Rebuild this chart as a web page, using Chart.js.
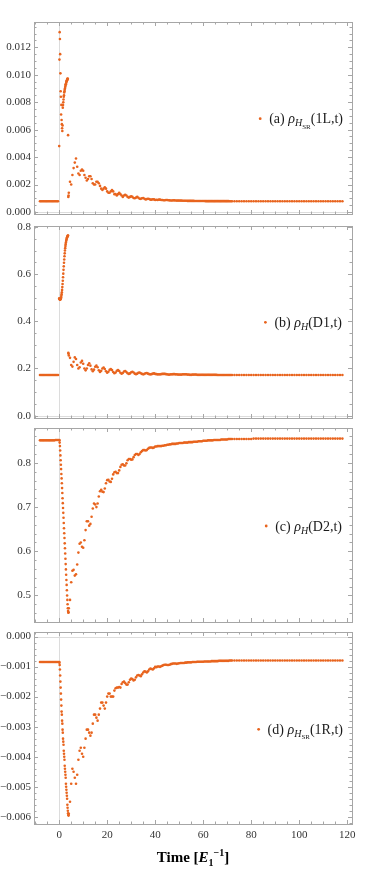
<!DOCTYPE html>
<html>
<head>
<meta charset="utf-8">
<script src="https://cdn.jsdelivr.net/npm/chart.js@4.4.1/dist/chart.umd.min.js"></script>
<style>
  html, body { margin: 0; padding: 0; background: #fff; }
  body { width: 374px; height: 872px; position: relative; overflow: hidden; }
  canvas { position: absolute; left: 0; }
</style>
</head>
<body>
<canvas id="pa" width="374" height="212" style="top:12px"></canvas>
<canvas id="pb" width="374" height="212" style="top:216px"></canvas>
<canvas id="pc" width="374" height="214" style="top:418px"></canvas>
<canvas id="pd" width="374" height="250" style="top:622px"></canvas>
<script>
// sample times (shared by all four panels)
var times = [
  -8, -7.5, -7, -6.5, -6, -5.5, -5, -4.5, -4, -3.5, -3, -2.5, -2, -1.5, -1, -0.5,
  0, 0.1, 0.2, 0.3, 0.4, 0.5, 0.6, 0.7, 0.8, 0.9,
  1, 1.1, 1.2, 1.3, 1.4, 1.5, 1.6, 1.7, 1.8, 1.9,
  2, 2.1, 2.2, 2.3, 2.4, 2.5, 2.6, 2.7, 2.8, 2.9,
  3, 3.1, 3.2, 3.3, 3.4, 3.5, 3.6, 3.7, 3.8, 3.9,
  4,
  4.5, 5, 5.5, 6, 6.5, 7, 7.5, 8, 8.5, 9,
  9.5, 10, 10.5, 11, 11.5, 12, 12.5, 13, 13.5, 14,
  14.5, 15, 15.5, 16, 16.5, 17, 17.5, 18, 18.5, 19,
  19.5, 20, 20.5, 21, 21.5, 22, 22.5, 23, 23.5, 24,
  24.5, 25, 25.5, 26, 26.5, 27, 27.5, 28, 28.5, 29,
  29.5, 30, 30.5, 31, 31.5, 32, 32.5, 33, 33.5, 34,
  34.5, 35, 35.5, 36, 36.5, 37, 37.5, 38, 38.5, 39,
  39.5, 40,
  40.5, 41, 41.5, 42, 42.5, 43, 43.5, 44, 44.5, 45,
  45.5, 46, 46.5, 47, 47.5, 48, 48.5, 49, 49.5, 50,
  50.5, 51, 51.5, 52, 52.5, 53, 53.5, 54, 54.5, 55,
  55.5, 56, 56.5, 57, 57.5, 58, 58.5, 59, 59.5, 60,
  60.5, 61, 61.5, 62, 62.5, 63, 63.5, 64, 64.5, 65,
  65.5, 66, 66.5, 67, 67.5, 68, 68.5, 69, 69.5, 70,
  70.5, 71, 71.5, 72,
  73, 74, 75, 76, 77, 78, 79, 80, 81, 82,
  83, 84, 85, 86, 87, 88, 89, 90, 91, 92,
  93, 94, 95, 96, 97, 98, 99, 100, 101, 102,
  103, 104, 105, 106, 107, 108, 109, 110, 111, 112,
  113, 114, 115, 116, 117, 118
];

// (a) rho_HSR(1L,t)
var rho1L = [
  0.00078, 0.00078, 0.00078, 0.00078, 0.00078, 0.00078, 0.00078, 0.00078, 0.00078, 0.00078, 0.00078, 0.00078, 0.00078, 0.00078, 0.00078, 0.00078,
  0.0048, 0.0111, 0.0131, 0.0126, 0.0115, 0.0101, 0.0088, 0.0084, 0.0071, 0.0078,
  0.0067, 0.0064, 0.0061, 0.0059, 0.0063, 0.0076, 0.0078, 0.0080, 0.0082, 0.0084,
  0.0085, 0.0087, 0.0088, 0.0089, 0.0090, 0.0091, 0.0092, 0.0093, 0.0093, 0.0094,
  0.0095, 0.0095, 0.0096, 0.0096, 0.0097, 0.0097, 0.0097, 0.0056, 0.0011, 0.0012,
  0.0014,
  0.0022, 0.0020, 0.0027, 0.0032, 0.0036, 0.0039, 0.0033, 0.0028, 0.0027, 0.0030,
  0.0031, 0.0030, 0.0027, 0.0025, 0.0023, 0.0024, 0.0026, 0.0026, 0.0024, 0.0021,
  0.0020, 0.0020, 0.0022, 0.0022, 0.0021, 0.0019, 0.0017, 0.0016, 0.0017, 0.0018,
  0.0017, 0.0015, 0.0014, 0.0014, 0.0015, 0.0016, 0.0015, 0.0013, 0.0013, 0.0012,
  0.0013, 0.0014, 0.0013, 0.0012, 0.0011, 0.0012, 0.00125, 0.0012, 0.0011, 0.00105,
  0.0011, 0.00115, 0.0011, 0.00102, 0.0010, 0.00105, 0.0011, 0.00104, 0.00097, 0.00096,
  0.0010, 0.00102, 0.00097, 0.00092, 0.00094, 0.00097, 0.00095, 0.0009, 0.0009, 0.00093,
  0.00092, 0.00088,
  0.00089, 0.00088, 0.0009, 0.0009, 0.00088, 0.00087, 0.00086, 0.00086, 0.00087, 0.00087,
  0.00086, 0.00085, 0.00084, 0.00084, 0.00085, 0.00085, 0.00084, 0.00083, 0.00083, 0.00083,
  0.00083, 0.00083, 0.00082, 0.00082, 0.00082, 0.00082, 0.00081, 0.00081, 0.00081, 0.00081,
  0.00081, 0.00081, 0.0008, 0.0008, 0.0008, 0.0008, 0.0008, 0.0008, 0.0008, 0.0008,
  0.0008, 0.00079, 0.00079, 0.00079, 0.00079, 0.00079, 0.00079, 0.00079, 0.00079, 0.00079,
  0.00079, 0.00079, 0.00079, 0.00079, 0.00079, 0.00079, 0.00079, 0.00079, 0.00079, 0.00079,
  0.00079, 0.00078, 0.00078, 0.00078,
  0.00078, 0.00078, 0.00078, 0.00078, 0.00078, 0.00078, 0.00078, 0.00078, 0.00078, 0.00078,
  0.00078, 0.00078, 0.00078, 0.00078, 0.00078, 0.00078, 0.00078, 0.00078, 0.00078, 0.00078,
  0.00078, 0.00078, 0.00078, 0.00078, 0.00078, 0.00078, 0.00078, 0.00078, 0.00078, 0.00078,
  0.00078, 0.00078, 0.00078, 0.00078, 0.00078, 0.00078, 0.00078, 0.00078, 0.00078, 0.00078,
  0.00078, 0.00078, 0.00078, 0.00078, 0.00078, 0.00078
];

// (b) rho_H(D1,t)
var rhoD1 = [
  0.172, 0.172, 0.172, 0.172, 0.172, 0.172, 0.172, 0.172, 0.172, 0.172, 0.172, 0.172, 0.172, 0.172, 0.172, 0.172,
  0.497, 0.495, 0.493, 0.492, 0.492, 0.493, 0.494, 0.497, 0.502, 0.508,
  0.515, 0.523, 0.533, 0.545, 0.558, 0.572, 0.587, 0.602, 0.618, 0.633,
  0.648, 0.662, 0.676, 0.688, 0.700, 0.710, 0.719, 0.727, 0.734, 0.740,
  0.745, 0.749, 0.753, 0.756, 0.759, 0.761, 0.763, 0.764, 0.266, 0.262,
  0.255,
  0.245, 0.215, 0.208, 0.228, 0.247, 0.240, 0.215, 0.200, 0.205, 0.225,
  0.232, 0.220, 0.200, 0.192, 0.200, 0.215, 0.222, 0.212, 0.196, 0.188,
  0.195, 0.207, 0.212, 0.205, 0.192, 0.185, 0.190, 0.200, 0.204, 0.198,
  0.188, 0.182, 0.186, 0.194, 0.198, 0.193, 0.185, 0.180, 0.183, 0.190,
  0.193, 0.189, 0.182, 0.178, 0.181, 0.187, 0.189, 0.185, 0.180, 0.177,
  0.179, 0.184, 0.186, 0.183, 0.178, 0.176, 0.178, 0.182, 0.183, 0.180,
  0.177, 0.175, 0.177, 0.180, 0.181, 0.178, 0.176, 0.175, 0.176, 0.178,
  0.179, 0.177,
  0.176, 0.175, 0.175, 0.175, 0.176, 0.177, 0.177, 0.177, 0.176, 0.175,
  0.174, 0.174, 0.175, 0.175, 0.176, 0.176, 0.175, 0.175, 0.174, 0.174,
  0.174, 0.174, 0.175, 0.175, 0.175, 0.175, 0.174, 0.174, 0.173, 0.173,
  0.174, 0.174, 0.174, 0.174, 0.173, 0.173, 0.173, 0.173, 0.173, 0.173,
  0.173, 0.173, 0.173, 0.173, 0.173, 0.173, 0.173, 0.173, 0.173, 0.173,
  0.173, 0.172, 0.172, 0.172, 0.172, 0.172, 0.172, 0.172, 0.172, 0.172,
  0.172, 0.172, 0.172, 0.172,
  0.172, 0.172, 0.172, 0.172, 0.172, 0.172, 0.172, 0.172, 0.172, 0.172,
  0.172, 0.172, 0.172, 0.172, 0.172, 0.172, 0.172, 0.172, 0.172, 0.172,
  0.172, 0.172, 0.172, 0.172, 0.172, 0.172, 0.172, 0.172, 0.172, 0.172,
  0.172, 0.172, 0.172, 0.172, 0.172, 0.172, 0.172, 0.172, 0.172, 0.172,
  0.172, 0.172, 0.172, 0.172, 0.172, 0.172
];

// (c) rho_H(D2,t)
var rhoD2 = [
  0.851, 0.851, 0.851, 0.851, 0.851, 0.851, 0.851, 0.851, 0.851, 0.851, 0.851, 0.851, 0.851, 0.852, 0.852, 0.852,
  0.852, 0.851, 0.846, 0.838, 0.828, 0.817, 0.806, 0.796, 0.786, 0.775,
  0.765, 0.754, 0.743, 0.732, 0.720, 0.709, 0.698, 0.687, 0.676, 0.664,
  0.652, 0.641, 0.630, 0.618, 0.607, 0.595, 0.583, 0.571, 0.559, 0.547,
  0.535, 0.524, 0.512, 0.500, 0.490, 0.480, 0.471, 0.465, 0.461, 0.462,
  0.471,
  0.490, 0.530, 0.556, 0.558, 0.545, 0.548, 0.570, 0.597, 0.617, 0.620,
  0.610, 0.608, 0.625, 0.648, 0.668, 0.668, 0.658, 0.662, 0.678, 0.697,
  0.708, 0.706, 0.700, 0.708, 0.724, 0.736, 0.739, 0.735, 0.734, 0.742,
  0.754, 0.761, 0.762, 0.758, 0.757, 0.764, 0.774, 0.779, 0.780, 0.777,
  0.777, 0.783, 0.791, 0.796, 0.797, 0.794, 0.794, 0.799, 0.806, 0.809,
  0.809, 0.807, 0.808, 0.813, 0.818, 0.820, 0.820, 0.818, 0.820, 0.824,
  0.827, 0.829, 0.829, 0.828, 0.829, 0.832, 0.834, 0.835, 0.835, 0.834,
  0.835, 0.837,
  0.837, 0.838, 0.838, 0.838, 0.838, 0.839, 0.839, 0.840, 0.840, 0.841,
  0.841, 0.842, 0.842, 0.843, 0.843, 0.843, 0.843, 0.844, 0.844, 0.845,
  0.845, 0.845, 0.845, 0.846, 0.846, 0.846, 0.846, 0.847, 0.847, 0.847,
  0.847, 0.848, 0.848, 0.848, 0.848, 0.849, 0.849, 0.849, 0.849, 0.850,
  0.850, 0.850, 0.850, 0.851, 0.851, 0.851, 0.851, 0.851, 0.852, 0.852,
  0.852, 0.852, 0.852, 0.852, 0.853, 0.853, 0.853, 0.853, 0.853, 0.853,
  0.854, 0.854, 0.854, 0.854,
  0.854, 0.854, 0.854, 0.854, 0.854, 0.854, 0.854, 0.854, 0.855, 0.855,
  0.855, 0.855, 0.855, 0.855, 0.855, 0.855, 0.855, 0.855, 0.855, 0.855,
  0.855, 0.855, 0.855, 0.855, 0.855, 0.855, 0.855, 0.855, 0.855, 0.855,
  0.855, 0.855, 0.855, 0.855, 0.855, 0.855, 0.855, 0.855, 0.855, 0.855,
  0.855, 0.855, 0.855, 0.855, 0.855, 0.855
];

// (d) rho_HSR(1R,t)
var rho1R = [
  -0.00085, -0.00085, -0.00085, -0.00085, -0.00085, -0.00085, -0.00085, -0.00085, -0.00085, -0.00085, -0.00085, -0.00085, -0.00085, -0.00085, -0.00085, -0.00085,
  -0.00085, -0.00087, -0.00095, -0.0011, -0.0013, -0.0015, -0.0017, -0.0019, -0.0021, -0.0023,
  -0.0025, -0.0026, -0.0028, -0.0029, -0.0031, -0.0032, -0.0034, -0.0035, -0.0036, -0.0038,
  -0.0039, -0.0040, -0.0041, -0.0043, -0.0044, -0.0045, -0.0046, -0.0047, -0.0049, -0.0050,
  -0.0051, -0.0052, -0.0053, -0.0054, -0.0056, -0.0057, -0.0058, -0.00588, -0.00594, -0.00596,
  -0.0059,
  -0.0055, -0.0049, -0.0044, -0.0045, -0.0047, -0.0049, -0.0046, -0.0041, -0.0038, -0.0037,
  -0.0039, -0.0040, -0.0037, -0.0034, -0.0031, -0.0031, -0.0032, -0.0033, -0.0032, -0.0029,
  -0.0026, -0.0026, -0.0027, -0.0028, -0.0026, -0.0024, -0.0022, -0.0022, -0.0023, -0.0024,
  -0.0022, -0.0020, -0.0019, -0.0019, -0.0020, -0.0020, -0.0020, -0.0018, -0.00172, -0.0017,
  -0.0017, -0.00168, -0.0017, -0.00158, -0.00152, -0.0015, -0.00155, -0.0016, -0.0016, -0.00152,
  -0.00144, -0.0014, -0.00142, -0.00146, -0.00144, -0.00136, -0.0013, -0.00128, -0.0013, -0.00132,
  -0.00126, -0.0012, -0.00116, -0.00117, -0.0012, -0.00116, -0.0011, -0.00107, -0.00108, -0.0011,
  -0.00106, -0.00101,
  -0.00102, -0.001, -0.001, -0.00101, -0.00099, -0.00097, -0.00095, -0.00094, -0.00094, -0.00095,
  -0.00095, -0.00094, -0.00092, -0.00091, -0.0009, -0.0009, -0.0009, -0.00091, -0.0009, -0.00089,
  -0.00088, -0.00088, -0.00088, -0.00088, -0.00087, -0.00087, -0.00086, -0.00086, -0.00086, -0.00086,
  -0.00085, -0.00085, -0.00085, -0.00085, -0.00084, -0.00084, -0.00084, -0.00084, -0.00084, -0.00084,
  -0.00083, -0.00083, -0.00083, -0.00083, -0.00083, -0.00083, -0.00082, -0.00082, -0.00082, -0.00082,
  -0.00082, -0.00082, -0.00081, -0.00081, -0.00081, -0.00081, -0.00081, -0.00081, -0.00081, -0.00081,
  -0.00081, -0.0008, -0.0008, -0.0008,
  -0.0008, -0.0008, -0.0008, -0.0008, -0.0008, -0.0008, -0.0008, -0.0008, -0.0008, -0.0008,
  -0.0008, -0.0008, -0.0008, -0.0008, -0.0008, -0.0008, -0.0008, -0.0008, -0.0008, -0.0008,
  -0.0008, -0.0008, -0.0008, -0.0008, -0.0008, -0.0008, -0.0008, -0.0008, -0.0008, -0.0008,
  -0.0008, -0.0008, -0.0008, -0.0008, -0.0008, -0.0008, -0.0008, -0.0008, -0.0008, -0.0008,
  -0.0008, -0.0008, -0.0008, -0.0008, -0.0008, -0.0008
];

// tick labels
var xTicks = [0, 20, 40, 60, 80, 100, 120];
var yTicksA = [0, 0.002, 0.004, 0.006, 0.008, 0.010, 0.012];
var yTicksB = [0, 0.2, 0.4, 0.6, 0.8];
var yTicksC = [0.5, 0.6, 0.7, 0.8];
var yTicksD = [-0.006, -0.005, -0.004, -0.003, -0.002, -0.001, 0];

var SERIF = '"Liberation Serif", "Times New Roman", serif';
Chart.defaults.font.family = SERIF;
Chart.defaults.color = '#333';

var fonts = {
  r: ['14px ' + SERIF, 0],
  i: ['italic 14px ' + SERIF, 0],
  sub: ['italic 10px ' + SERIF, 3],
  subsub: ['7px ' + SERIF, 5.5],
  b: ['bold 15px ' + SERIF, 0],
  bi: ['bold italic 15px ' + SERIF, 0],
  bsub: ['bold 10px ' + SERIF, 3.5],
  bsup: ['bold 10px ' + SERIF, -6]
};

function drawRich(ctx, parts, x, y, align) {
  var w = 0;
  parts.forEach(function (p) { ctx.font = fonts[p[1]][0]; w += ctx.measureText(p[0]).width; });
  var cx = align === 'right' ? x - w : (align === 'center' ? x - w / 2 : x);
  var start = cx;
  ctx.textAlign = 'left';
  ctx.textBaseline = 'alphabetic';
  parts.forEach(function (p) {
    ctx.font = fonts[p[1]][0];
    ctx.fillText(p[0], cx, y + fonts[p[1]][1]);
    cx += ctx.measureText(p[0]).width;
  });
  return start;
}

function drawTicks(ctx, scale, minor, major, area, horizontal) {
  var k0 = Math.ceil(scale.min / minor - 1e-9), k1 = Math.floor(scale.max / minor + 1e-9);
  for (var k = k0; k <= k1; k++) {
    var v = k * minor;
    var isMajor = Math.abs(v / major - Math.round(v / major)) < 1e-6;
    var len = isMajor ? 4 : 2.5;
    var p = Math.round(scale.getPixelForValue(v)) + 0.5;
    ctx.beginPath();
    if (horizontal) {
      ctx.moveTo(p, area.top); ctx.lineTo(p, area.top + len);
      ctx.moveTo(p, area.bottom); ctx.lineTo(p, area.bottom - len);
    } else {
      ctx.moveTo(area.left, p); ctx.lineTo(area.left + len, p);
      ctx.moveTo(area.right, p); ctx.lineTo(area.right - len, p);
    }
    ctx.stroke();
  }
}

// Mathematica-like frame, inward ticks, axis lines, legend text
var framePlugin = {
  id: 'frame',
  beforeDatasetsDraw: function (chart, args, o) {
    var ctx = chart.ctx, a = chart.chartArea, x = chart.scales.x, y = chart.scales.y;
    ctx.save();
    ctx.strokeStyle = '#dcdcdc';
    ctx.lineWidth = 1;
    var x0 = Math.round(x.getPixelForValue(0)) + 0.5;
    ctx.beginPath(); ctx.moveTo(x0, a.top); ctx.lineTo(x0, a.bottom); ctx.stroke();
    if (o.zeroY) {
      var y0 = Math.round(y.getPixelForValue(0)) + 0.5;
      ctx.beginPath(); ctx.moveTo(a.left, y0); ctx.lineTo(a.right, y0); ctx.stroke();
    }
    ctx.restore();
  },
  afterDatasetsDraw: function (chart, args, o) {
    var ctx = chart.ctx, a = chart.chartArea, x = chart.scales.x, y = chart.scales.y;
    ctx.save();
    ctx.strokeStyle = '#a6a6a6';
    ctx.lineWidth = 1;
    ctx.strokeRect(Math.round(a.left) + 0.5, Math.round(a.top) + 0.5,
      Math.round(a.right - a.left), Math.round(a.bottom - a.top));
    drawTicks(ctx, x, 5, 20, a, true);
    drawTicks(ctx, y, o.yMinor, o.yMajor, a, false);

    ctx.fillStyle = '#1a1a1a';
    var start = drawRich(ctx, o.legend, o.legendX, o.legendY + 4.5, 'right');
    ctx.fillStyle = '#e8641e';
    ctx.beginPath(); ctx.arc(start - 9, o.legendY, 1.4, 0, Math.PI * 2); ctx.fill();

    if (o.title) {
      ctx.fillStyle = '#000';
      drawRich(ctx, o.title, 193, o.titleY, 'center');
    }
    ctx.restore();
  }
};

function makePanel(id, values, cfg) {
  var points = times.map(function (t, i) { return { x: t, y: values[i] }; });
  var showX = !!cfg.showX;
  return new Chart(document.getElementById(id), {
    type: 'scatter',
    data: {
      datasets: [{
        data: points,
        backgroundColor: '#e8641e',
        borderWidth: 0,
        pointRadius: 1.3,
        pointHoverRadius: 1.3
      }]
    },
    options: {
      responsive: false,
      animation: false,
      devicePixelRatio: 1,
      events: [],
      layout: { padding: { left: 0, right: 22, top: 10, bottom: showX ? 0 : 10 } },
      scales: {
        x: {
          type: 'linear',
          display: showX,
          min: -10.5,
          max: 122,
          afterBuildTicks: function (s) { s.ticks = xTicks.map(function (v) { return { value: v }; }); },
          afterFit: function (s) { s.height = showX ? 48 : 0; },
          ticks: { autoSkip: false, maxRotation: 0, padding: 5, color: '#333', font: { family: SERIF, size: 11 } },
          grid: { display: false, drawTicks: false },
          border: { display: false }
        },
        y: {
          type: 'linear',
          min: cfg.yMin,
          max: cfg.yMax,
          afterBuildTicks: function (s) { s.ticks = cfg.yTicks.map(function (v) { return { value: v }; }); },
          afterFit: function (s) { s.width = 34; },
          ticks: {
            padding: 3,
            color: '#333',
            font: { family: SERIF, size: 11 },
            callback: function (v) { return v.toFixed(cfg.digits).replace('-', '\u2212'); }
          },
          grid: { display: false, drawTicks: false },
          border: { display: false }
        }
      },
      plugins: {
        legend: { display: false },
        tooltip: { enabled: false },
        frame: {
          yMinor: cfg.yMinor,
          yMajor: cfg.yMajor,
          zeroY: cfg.zeroY,
          legend: cfg.legend,
          legendX: cfg.legendX,
          legendY: cfg.legendY,
          title: cfg.title,
          titleY: cfg.titleY
        }
      }
    },
    plugins: [framePlugin]
  });
}

makePanel('pa', rho1L, {
  yMin: -0.000145, yMax: 0.01384, yTicks: yTicksA, digits: 3, yMinor: 0.0005, yMajor: 0.002, zeroY: true,
  legend: [['(a) ', 'r'], ['\u03c1', 'i'], ['H', 'sub'], ['SR', 'subsub'], ['(1L,t)', 'r']],
  legendX: 343, legendY: 106.7
});
makePanel('pb', rhoD1, {
  yMin: -0.01, yMax: 0.804, yTicks: yTicksB, digits: 1, yMinor: 0.05, yMajor: 0.2, zeroY: true,
  legend: [['(b) ', 'r'], ['\u03c1', 'i'], ['H', 'sub'], ['(D1,t)', 'r']],
  legendX: 342, legendY: 106.3
});
makePanel('pc', rhoD2, {
  yMin: 0.44, yMax: 0.879, yTicks: yTicksC, digits: 1, yMinor: 0.02, yMajor: 0.1, zeroY: false,
  legend: [['(c) ', 'r'], ['\u03c1', 'i'], ['H', 'sub'], ['(D2,t)', 'r']],
  legendX: 342, legendY: 108
});
makePanel('pd', rho1R, {
  showX: true,
  yMin: -0.00624, yMax: 0.00015, yTicks: yTicksD, digits: 3, yMinor: 0.0002, yMajor: 0.001, zeroY: true,
  legend: [['(d) ', 'r'], ['\u03c1', 'i'], ['H', 'sub'], ['SR', 'subsub'], ['(1R,t)', 'r']],
  legendX: 343, legendY: 107.3,
  title: [['Time [', 'b'], ['E', 'bi'], ['1', 'bsub'], ['\u22121', 'bsup'], [']', 'b']],
  titleY: 240
});
</script>
</body>
</html>
